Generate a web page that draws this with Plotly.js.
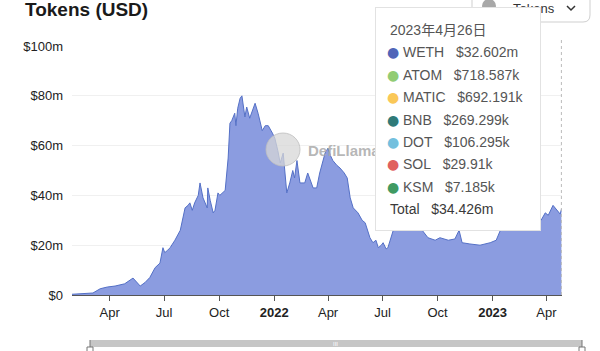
<!DOCTYPE html>
<html>
<head>
<meta charset="utf-8">
<script src="https://cdn.plot.ly/plotly-3.0.1.min.js"></script>
<style>
html,body{margin:0;padding:0;background:#fff;}
#chart{width:600px;height:351px;}
</style>
</head>
<body>
<div id="chart"></div>
<script>
// ---- data (values in $ millions) ----
const dates = [
'2021-01-28','2021-03-04','2021-03-16','2021-03-28','2021-04-10','2021-04-26','2021-05-10','2021-05-22','2021-05-30','2021-06-07',
'2021-06-16','2021-06-24','2021-06-29','2021-07-02','2021-07-07','2021-07-11','2021-07-19','2021-07-28','2021-08-05','2021-08-10','2021-08-13',
'2021-08-17','2021-08-21','2021-08-27','2021-08-30','2021-09-04','2021-09-11','2021-09-12','2021-09-16','2021-09-21','2021-09-24','2021-09-29',
'2021-10-02','2021-10-07','2021-10-11','2021-10-16','2021-10-19','2021-10-22','2021-10-27','2021-10-29','2021-11-01','2021-11-05','2021-11-08',
'2021-11-13','2021-11-16','2021-11-21','2021-11-26','2021-11-30','2021-12-05','2021-12-08','2021-12-12','2021-12-17','2021-12-22','2021-12-29',
'2022-01-02','2022-01-07','2022-01-11','2022-01-16','2022-01-19','2022-01-22','2022-01-27','2022-02-01','2022-02-04','2022-02-08','2022-02-13',
'2022-02-21','2022-02-26','2022-03-07','2022-03-13','2022-03-18','2022-03-27','2022-04-01','2022-04-05','2022-04-09','2022-04-16','2022-04-21',
'2022-04-28','2022-05-03','2022-05-08','2022-05-13','2022-05-21','2022-05-28','2022-06-02','2022-06-10','2022-06-15','2022-06-20','2022-06-24',
'2022-06-29','2022-07-02','2022-07-07','2022-07-10','2022-07-15','2022-07-19','2022-07-30','2022-08-16','2022-09-02','2022-09-15',
'2022-09-27','2022-10-05','2022-10-19','2022-10-30','2022-11-06','2022-11-11','2022-11-24','2022-12-11','2022-12-28',
'2023-01-07','2023-01-14','2023-01-30','2023-02-16','2023-03-05','2023-03-18','2023-03-23','2023-03-30','2023-04-04','2023-04-12',
'2023-04-19','2023-04-24','2023-04-26'
];
const totalUSDm = [
0.3,0.8,2.5,3.2,3.6,4.5,6.8,3.6,5,7,
11,12.8,19,17,18,19,22,26,35,36,37,
34,37,40,45,39,35,43,38,33,34,41,
40,41,42,55,69,70,73,68,75,79,80,
71.5,75.5,71,74,77,73,70,66,68,68,65,
63,58,53,57,50,41,45,50,47,54,45,
45,49,43,43,49,57,59,56,54,52,51,
49,47,39,35,33,30,29,23,21,22,19,
20,21,18.5,19,23,26,27,26.5,27,23,
22,23,22,22.5,26,21,20.5,20,21,
22,26,27,27.5,28,29,30,33,32,36,
34,32.5,34.426
];
const yTickVals = [0,20,40,60,80,100];
const yTickText = ['$0','$20m','$40m','$60m','$80m','$100m'];
const xTickVals = ['2021-04-01','2021-07-01','2021-10-01','2022-01-01','2022-04-01','2022-07-01','2022-10-01','2023-01-01','2023-04-01'];
const xTickText = ['Apr','Jul','Oct','<b>2022</b>','Apr','Jul','Oct','<b>2023</b>','Apr'];

const tooltipDate = '2023年4月26日';
const tooltipTokens = ['WETH','ATOM','MATIC','BNB','DOT','SOL','KSM'];
const tooltipValues = ['$32.602m','$718.587k','$692.191k','$269.299k','$106.295k','$29.91k','$7.185k'];
const tooltipTotal = '$34.426m';
const hoverDate = '2023-04-26';

// ---- style ----
const tokenColors = ['#5066b8','#91cc75','#fac858','#2f7a78','#73c0de','#e06060','#3f9a62'];
const FONT = 'Liberation Sans, Arial, Noto Sans CJK SC, sans-serif';

// layout helpers (pixel -> paper)
const L = 72, R = 562, T = 46, B = 295;
const px = x => (x - L) / (R - L);
const py = y => (B - y) / (B - T);

const shapes = [];
const annotations = [];

// hover dashed line
shapes.push({type:'line', xref:'x', yref:'paper', x0:hoverDate, x1:hoverDate, y0:0, y1:py(38),
  line:{color:'#bbbbbb', width:1, dash:'dot'}, layer:'above'});

// watermark
shapes.push({type:'circle', xref:'paper', yref:'paper', x0:px(266), x1:px(300), y0:py(166), y1:py(133),
  fillcolor:'rgba(215,215,215,0.75)', line:{color:'rgba(190,190,190,0.8)', width:1}, layer:'above'});
annotations.push({xref:'paper', yref:'paper', x:px(306), y:py(150), xanchor:'left', yanchor:'middle',
  text:'<b>DefiLlama</b>', showarrow:false, font:{family:FONT, size:15, color:'rgba(170,170,170,0.85)'}});

function roundRect(x0,y0,x1,y1,r){
  const rx = r/(R-L), ry = r/(B-T);
  const a=px(x0), b=px(x1), c=py(y0), d=py(y1);
  return `M${a+rx},${c} L${b-rx},${c} Q${b},${c} ${b},${c-ry} L${b},${d+ry} Q${b},${d} ${b-rx},${d} L${a+rx},${d} Q${a},${d} ${a},${d+ry} L${a},${c-ry} Q${a},${c} ${a+rx},${c} Z`;
}
// dropdown button (top right)
shapes.push({type:'path', xref:'paper', yref:'paper', path:roundRect(472,-8,590,22,7),
  fillcolor:'#ffffff', line:{color:'#cfcfcf', width:1}, layer:'above'});
shapes.push({type:'circle', xref:'paper', yref:'paper', x0:px(482), x1:px(496), y0:py(13), y1:py(-1),
  fillcolor:'#a8a8a8', line:{width:0}, layer:'above'});
shapes.push({type:'path', xref:'paper', yref:'paper',
  path:`M${px(567)},${py(6)} L${px(571)},${py(10)} L${px(575)},${py(6)}`,
  line:{color:'#333', width:1.5}, layer:'above'});
annotations.push({xref:'paper', yref:'paper', x:px(511), y:py(8), xanchor:'left', yanchor:'middle',
  text:'Tokens', showarrow:false, font:{family:FONT, size:13, color:'#333'}});

// tooltip box (annotation so it sits above the button text)
annotations.push({xref:'paper', yref:'paper', x:px(377), y:py(9), xanchor:'left', yanchor:'top',
  text:' ', showarrow:false, width:164, height:222, bgcolor:'rgba(0,0,0,0.05)', borderwidth:0, borderpad:0});
annotations.push({xref:'paper', yref:'paper', x:px(375), y:py(7), xanchor:'left', yanchor:'top',
  text:' ', showarrow:false, width:164, height:222, bgcolor:'#ffffff', bordercolor:'#e2e2e2', borderwidth:1, borderpad:0});

const lineY0 = 30, lineStep = 22.4;
annotations.push({xref:'paper', yref:'paper', x:px(388), y:py(lineY0), xanchor:'left', yanchor:'middle',
  text:tooltipDate, showarrow:false, font:{family:FONT, size:14, color:'#555'}});
tooltipTokens.forEach((tk,i)=>{
  const yy = lineY0 + lineStep*(i+1);
  annotations.push({xref:'paper', yref:'paper', x:px(393), y:py(yy), xanchor:'center', yanchor:'middle',
    text:'●', showarrow:false, font:{family:'DejaVu Sans', size:14, color:tokenColors[i]}});
  annotations.push({xref:'paper', yref:'paper', x:px(401), y:py(yy), xanchor:'left', yanchor:'middle',
    text:tk + '\u00a0\u00a0\u00a0' + tooltipValues[i], showarrow:false, font:{family:FONT, size:14, color:'#555'}});
});
annotations.push({xref:'paper', yref:'paper', x:px(388), y:py(lineY0 + lineStep*8), xanchor:'left', yanchor:'middle',
  text:'Total\u00a0\u00a0\u00a0' + tooltipTotal, showarrow:false, font:{family:FONT, size:14, color:'#3a3a3a'}});

// range brush bar at bottom
shapes.push({type:'rect', xref:'paper', yref:'paper', x0:px(90), x1:px(582), y0:py(347), y1:py(340),
  fillcolor:'#c6c6c6', line:{width:0}, layer:'above'});
[90,582].forEach(xx=>{
  shapes.push({type:'line', xref:'paper', yref:'paper', x0:px(xx), x1:px(xx), y0:py(340), y1:py(352),
    line:{color:'#777', width:1}, layer:'above'});
  shapes.push({type:'rect', xref:'paper', yref:'paper', x0:px(xx-3), x1:px(xx+3), y0:py(352), y1:py(347),
    fillcolor:'#fff', line:{color:'#777', width:1}, layer:'above'});
});
annotations.push({xref:'paper', yref:'paper', x:px(335), y:py(343.5), xanchor:'center', yanchor:'middle',
  text:'III', showarrow:false, font:{family:FONT, size:6, color:'#ffffff'}});

// title
annotations.push({xref:'paper', yref:'paper', x:px(23), y:py(10), xanchor:'left', yanchor:'middle',
  text:'<b>Tokens (USD)</b>', showarrow:false, font:{family:FONT, size:19, color:'#1a1a1a'}});

const trace = {
  type:'scatter', mode:'lines', x:dates, y:totalUSDm, name:'Total',
  fill:'tozeroy', fillcolor:'#8b9ce0',
  line:{color:'#5470c6', width:1, shape:'linear'},
  hoverinfo:'skip'
};

const layout = {
  width:600, height:351,
  margin:{l:L, r:600-R, t:T, b:351-B},
  paper_bgcolor:'#ffffff', plot_bgcolor:'#ffffff',
  showlegend:false,
  hovermode:false,
  xaxis:{
    type:'date', range:['2021-01-28','2023-04-27'],
    tickvals:xTickVals, ticktext:xTickText,
    showgrid:false, zeroline:false,
    showline:true, linecolor:'#555', linewidth:1,
    ticks:'outside', ticklen:5, tickcolor:'#555',
    tickfont:{family:FONT, size:13, color:'#222'}
  },
  yaxis:{
    range:[0,100], tickvals:yTickVals, ticktext:yTickText,
    showgrid:true, gridcolor:'#f0f0f0', gridwidth:1,
    zeroline:false, showline:false, ticks:'', ticklabelstandoff:8,
    tickfont:{family:FONT, size:13, color:'#222'}
  },
  shapes:shapes,
  annotations:annotations
};

Plotly.newPlot('chart', [trace], layout, {displayModeBar:false, staticPlot:true});
</script>
</body>
</html>
